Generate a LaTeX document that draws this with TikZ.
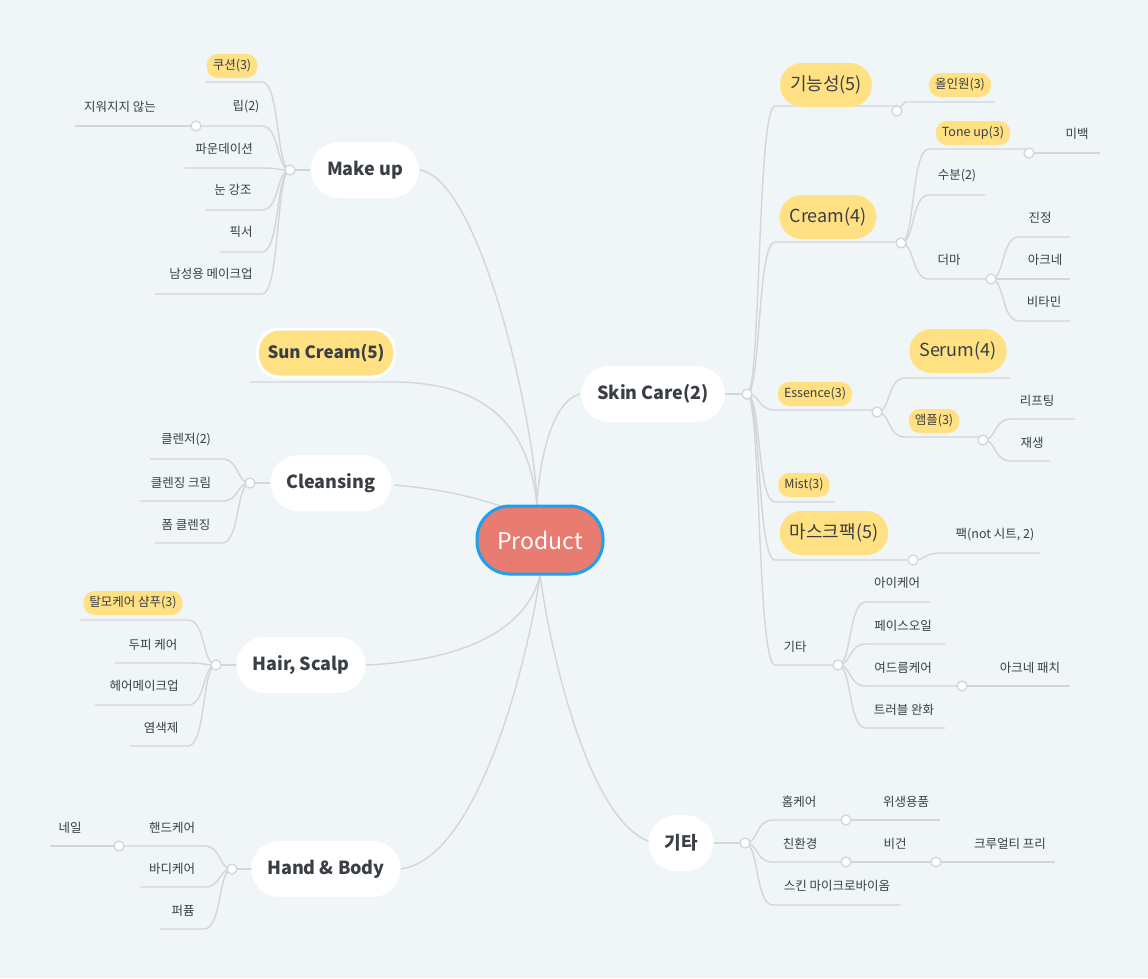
\documentclass[tikz,border=0pt]{standalone}
\usepackage{fontspec}
\setmainfont{Noto Sans CJK KR}
\definecolor{bg}{HTML}{F0F5F8}
\definecolor{ln}{HTML}{D2D6DA}
\definecolor{tx}{HTML}{3A3F45}
\definecolor{yel}{HTML}{FFE082}
\definecolor{prod}{HTML}{E97C70}
\definecolor{blu}{HTML}{1BA1EF}
\newcommand\Rk[4]{\draw[br] (#1,#2) .. controls ({#1+14},#2) and ({#1+10},#3) .. ({#1+28},#3) -- (#4,#3);}
\newcommand\Lk[4]{\draw[br] (#1,#2) .. controls ({#1-14},#2) and ({#1-10},#3) .. ({#1-28},#3) -- (#4,#3);}
\begin{document}
\begin{tikzpicture}[x=1pt,y=-1pt,
 br/.style={draw=ln,line width=1.4pt},
 lbl/.style={text=tx,font=\fontsize{12.5}{14}\selectfont,inner sep=1pt},
 spill/.style={fill=yel,rounded corners=11pt,text=tx,font=\fontsize{12.5}{14}\selectfont,minimum height=24pt,inner xsep=6pt},
 bpill/.style={fill=yel,rounded corners=22pt,text=tx,font=\fontsize{18}{20}\selectfont,minimum height=44pt,inner xsep=10pt},
 main/.style={fill=white,rounded corners=28pt,text=tx,font=\fontsize{18}{20}\selectfont\bfseries,minimum height=56pt,inner xsep=16pt},
 hub/.style={circle,draw=ln,line width=1.3pt,fill=white,minimum size=10pt,inner sep=0pt}]
\fill[bg] (0,0) rectangle (1148,978);
\useasboundingbox (0,0) rectangle (1148,978);
% ---- product links
\draw[br] (420,170) .. controls (480,180) and (535,420) .. (537,505);
\draw[br] (250,382) -- (400,382) .. controls (500,385) and (530,440) .. (537,505);
\draw[br] (395,485) .. controls (450,490) and (490,500) .. (537,520);
\draw[br] (580,394) .. controls (555,400) and (540,450) .. (537,505);
\draw[br] (365,665) .. controls (480,660) and (530,620) .. (540,575);
\draw[br] (400,869) .. controls (480,860) and (530,650) .. (540,575);
\draw[br] (655,843) .. controls (590,830) and (550,650) .. (540,575);
% ---- Make up branch
\draw[br] (310,170) -- (290,170);
\Lk{290}{170}{82}{205}
\Lk{290}{170}{126}{196}
\draw[br] (196,126) -- (75,126);
\Lk{290}{170}{168}{185}
\Lk{290}{170}{210}{205}
\Lk{290}{170}{252}{220}
\Lk{290}{170}{294}{155}
% ---- Cleansing
\draw[br] (272,483) -- (250,483);
\Lk{250}{483}{459}{150}
\Lk{250}{483}{501}{140}
\Lk{250}{483}{543}{155}
% ---- Hair
\draw[br] (240,665) -- (216,665);
\Lk{216}{665}{620}{80}
\Lk{216}{665}{663}{115}
\Lk{216}{665}{705}{95}
\Lk{216}{665}{746}{130}
% ---- Hand
\draw[br] (255,869) -- (232,869);
\Lk{232}{869}{846}{119}
\draw[br] (119,846) -- (50,846);
\Lk{232}{869}{887}{140}
\Lk{232}{869}{929}{160}
% ---- Skin care
\draw[br] (725,394) -- (747,394);
\Rk{747}{394}{106}{897}
\draw[br] (897,111) -- (905,102) -- (995,102);
\Rk{747}{394}{242}{901}
\Rk{901}{243}{149}{1029}
\draw[br] (1029,153) -- (1100,153);
\Rk{901}{243}{195}{985}
\Rk{901}{243}{279}{991}
\Rk{991}{279}{237}{1070}
\Rk{991}{279}{279}{1070}
\Rk{991}{279}{321}{1070}
\Rk{747}{394}{410}{877}
\Rk{877}{412}{378}{1010}
\Rk{877}{412}{437}{983}
\Rk{983}{440}{419}{1075}
\Rk{983}{440}{461}{1050}
\Rk{747}{394}{502}{835}
\Rk{747}{394}{560}{913}
\Rk{913}{560}{553}{1040}
\Rk{747}{394}{665}{838}
\Rk{838}{665}{602}{930}
\Rk{838}{665}{644}{945}
\Rk{838}{665}{686}{962}
\draw[br] (962,686) -- (1070,686);
\Rk{838}{665}{728}{945}
% ---- 기타 main
\draw[br] (707,843) -- (745,843);
\Rk{745}{843}{820}{846}
\draw[br] (846,820) -- (940,820);
\Rk{745}{843}{862}{846}
\draw[br] (846,862) -- (1055,862);
\Rk{745}{843}{905}{900}
% ---- hubs
\foreach \p/\n in {{290,170}/h1,{196,126}/h2,{250,483}/h3,{216,665}/h4,{232,869}/h5,{119,846}/h6,
 {747,394}/h7,{897,111}/h8,{901,243}/h9,{1029,153}/h10,{991,279}/h11,{877,412}/h12,{983,440}/h13,
 {913,560}/h14,{838,665}/h15,{962,686}/h16,{745,843}/h17,{846,820}/h18,{846,862}/h19,{936,862}/h20}
 \node[hub] (\n) at (\p) {};
% ---- main nodes
\node[fill=prod,draw=blu,line width=3pt,rounded corners=33pt,minimum width=126pt,minimum height=68pt,text=white,font=\fontsize{23}{26}\selectfont] (product) at (540,540) {Product};
\node[main] (makeup) at (365,170) {Make up};
\node[bpill,draw=white,line width=3pt,font=\fontsize{17}{20}\selectfont\bfseries,minimum height=48pt] (sun) at (326,353) {Sun Cream(5)};
\node[main] (cleansing) at (331,483) {Cleansing};
\node[main] (hair) at (301,665) {Hair, Scalp};
\node[main] (hand) at (326,869) {Hand \& Body};
\node[main] (skin) at (653,394) {Skin Care(2)};
\node[main] (etc) at (681,843) {기타};
% ---- left labels
\node[spill] (cushion) at (232,66) {쿠션(3)};
\node[lbl] (lip) at (246,107) {립(2)};
\node[lbl] (lip2) at (120,107) {지워지지 않는};
\node[lbl] (found) at (224,149) {파운데이션};
\node[lbl] (eye) at (233,190) {눈 강조};
\node[lbl] (fix) at (241,232) {픽서};
\node[lbl] (men) at (211,274) {남성용 메이크업};
\node[lbl] (cl1) at (186,440) {클렌저(2)};
\node[lbl] (cl2) at (181,483) {클렌징 크림};
\node[lbl] (cl3) at (186,525) {폼 클렌징};
\node[spill] (hr1) at (133,603) {탈모케어 샴푸(3)};
\node[lbl] (hr2) at (153,645) {두피 케어};
\node[lbl] (hr3) at (144,686) {헤어메이크업};
\node[lbl] (hr4) at (161,728) {염색제};
\node[lbl] (hb1) at (172,828) {핸드케어};
\node[lbl] (hb0) at (70,828) {네일};
\node[lbl] (hb2) at (172,869) {바디케어};
\node[lbl] (hb3) at (183,911) {퍼퓸};
% ---- right labels
\node[bpill] (func) at (826,85) {기능성(5)};
\node[spill] (allin) at (960,85) {올인원(3)};
\node[bpill] (cream) at (828,217) {Cream(4)};
\node[spill] (tone) at (973,133) {Tone up(3)};
\node[lbl] (white) at (1077,134) {미백};
\node[lbl] (water) at (957,176) {수분(2)};
\node[lbl] (derma) at (949,260) {더마};
\node[lbl] (calm) at (1040,218) {진정};
\node[lbl] (acne) at (1045,260) {아크네};
\node[lbl] (vita) at (1044,302) {비타민};
\node[spill] (ess) at (815,394) {Essence(3)};
\node[bpill] (serum) at (958,351) {Serum(4)};
\node[spill] (amp) at (934,421) {앰플(3)};
\node[lbl] (lift) at (1037,401) {리프팅};
\node[lbl] (regen) at (1032,443) {재생};
\node[spill] (mist) at (804,485) {Mist(3)};
\node[bpill] (mask) at (834,533) {마스크팩(5)};
\node[lbl] (pack) at (995,535) {팩(not 시트, 2)};
\node[lbl] (oth) at (795,647) {기타};
\node[lbl] (o1) at (897,583) {아이케어};
\node[lbl] (o2) at (903,626) {페이스오일};
\node[lbl] (o3) at (903,668) {여드름케어};
\node[lbl] (o31) at (1030,668) {아크네 패치};
\node[lbl] (o4) at (904,710) {트러블 완화};
\node[lbl] (e1) at (799,802) {홈케어};
\node[lbl] (e11) at (906,802) {위생용품};
\node[lbl] (e2) at (800,844) {친환경};
\node[lbl] (e21) at (895,844) {비건};
\node[lbl] (e211) at (1010,844) {크루얼티 프리};
\node[lbl] (e3) at (837,886) {스킨 마이크로바이옴};
\end{tikzpicture}
\end{document}
